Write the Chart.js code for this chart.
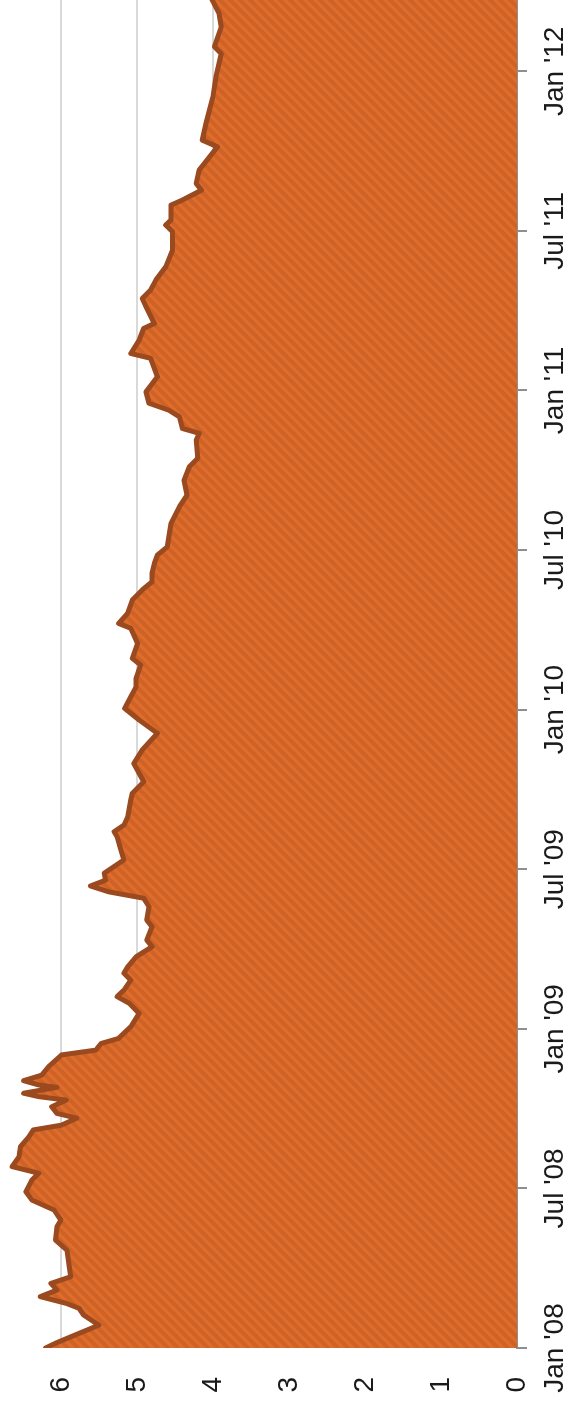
<!DOCTYPE html>
<html>
<head>
<meta charset="utf-8">
<script src="https://cdn.jsdelivr.net/npm/chart.js@4/dist/chart.umd.min.js"></script>
<style>
  html, body { margin: 0; padding: 0; background: #ffffff; overflow: hidden; }
  body { width: 568px; height: 1405px; position: relative; }
  #wrap {
    position: absolute; left: 0; top: 0;
    width: 1405px; height: 568px;
    transform-origin: 0 0;
    transform: translate(0px, 1405px) rotate(-90deg);
  }
  canvas { display: block; }
</style>
</head>
<body>
<div id="wrap"><canvas id="c" width="1405" height="568"></canvas></div>
<script>
// Months since Jan 2008
const months = [0,0.18,0.55,0.86,1.24,1.49,1.68,1.93,2.18,2.43,2.68,3.06,3.68,4.06,4.56,4.81,5.19,
  5.56,5.88,6.32,6.57,6.82,7.19,7.57,7.94,8.20,8.38,8.64,8.82,9.07,9.32,9.45,9.58,9.80,9.89,10.05,10.26,10.58,11.02,11.20,11.45,11.64,12.08,12.58,12.96,
  13.21,13.46,13.83,14.09,14.33,14.71,15.09,15.34,15.84,16.09,16.59,16.91,17.15,17.37,17.59,17.85,18.35,18.72,19.22,19.41,19.66,19.97,20.6,
  20.85,21.29,21.98,22.48,23.11,23.61,24.05,24.48,24.86,25.18,25.68,25.93,26.49,27.06,27.24,27.62,28.12,
  28.5,28.81,29.12,29.5,29.81,30.12,31.0,31.63,32.07,32.63,33.13,33.45,34.14,34.39,34.57,35.01,35.26,
  35.52,35.95,36.52,37.21,37.39,37.89,38.33,38.52,39.15,39.46,39.77,40.15,40.65,41.28,41.97,42.22,42.41,42.97,
  43.16,43.53,43.78,44.29,45.16,45.41,46.04,47.04,47.79,48.66,48.92,49.67,50.18,50.68];
const values = [6.2,6.07,5.76,5.5,5.70,5.76,5.93,6.27,6.05,6.13,5.87,5.89,5.92,6.07,6.05,6.0,6.09,
  6.38,6.46,6.38,6.29,6.64,6.55,6.53,6.42,6.36,5.99,5.79,6.05,6.12,5.93,6.29,6.49,6.05,6.29,6.49,6.25,6.16,5.99,5.54,5.47,5.24,5.08,4.97,5.1,
  5.26,5.17,5.08,5.17,5.12,5.01,4.8,4.87,4.8,4.87,4.84,4.91,5.37,5.61,5.41,5.43,5.17,5.21,5.26,5.30,5.17,5.12,5.08,
  5.06,4.91,5.04,4.93,4.73,4.97,5.16,5.08,5.01,5.01,4.95,5.06,4.99,5.08,5.24,5.12,5.06,
  4.93,4.8,4.8,4.77,4.73,4.6,4.55,4.44,4.34,4.38,4.31,4.2,4.22,4.18,4.40,4.44,4.58,
  4.84,4.88,4.73,4.82,5.08,4.97,4.91,4.77,4.88,4.93,4.82,4.75,4.62,4.53,4.53,4.62,4.55,4.55,
  4.4,4.15,4.22,4.18,3.94,4.14,4.09,4.0,3.96,3.89,3.98,3.89,3.92,4.01];
const xTickPositions = [0,6,12,18,24,30,36,42,48];
const xTickLabels = ["Jan '08","Jul '08","Jan '09","Jul '09","Jan '10","Jul '10","Jan '11","Jul '11","Jan '12"];
const yTicks = [0,1,2,3,4,5,6];

function makePattern() {
  const s = 10;
  const t = document.createElement('canvas');
  t.width = s; t.height = s;
  const g = t.getContext('2d');
  g.fillStyle = '#cd6329';
  g.fillRect(0, 0, s, s);
  g.strokeStyle = '#e06c2a';
  g.lineWidth = 3.2;
  g.beginPath();
  for (const o of [-s, 0, s]) {
    g.moveTo(o - 1, s + 1);
    g.lineTo(o + s + 1, -1);
  }
  g.stroke();
  return document.getElementById('c').getContext('2d').createPattern(t, 'repeat');
}

const FONT = "'Liberation Sans', Arial, sans-serif";
const pts = months.map((m, i) => ({ x: m, y: values[i] }));

new Chart(document.getElementById('c'), {
  type: 'line',
  data: {
    datasets: [{
      data: pts,
      borderColor: '#9b4a20',
      borderWidth: 5,
      borderJoinStyle: 'round',
      borderCapStyle: 'round',
      backgroundColor: makePattern(),
      fill: 'origin',
      pointRadius: 0,
      tension: 0
    }]
  },
  options: {
    responsive: false,
    animation: false,
    devicePixelRatio: 1,
    layout: { padding: 0 },
    plugins: { legend: { display: false }, tooltip: { enabled: false } },
    scales: {
      x: {
        type: 'linear',
        bounds: 'data',
        min: 0,
        max: months[months.length - 1],
        afterFit: s => { s.height = 51; s.paddingLeft = 0; s.paddingRight = 0; },
        afterBuildTicks: s => { s.ticks = xTickPositions.map(v => ({ value: v })); },
        border: { display: true, color: '#8f8f8f', width: 2 },
        grid: { drawOnChartArea: false, drawTicks: true, tickLength: 10, color: '#8f8f8f', lineWidth: 2 },
        ticks: {
          autoSkip: false, maxRotation: 0, minRotation: 0, padding: 11,
          color: '#1a1a1a',
          font: { family: FONT, size: 28 },
          callback: (v) => { const i = xTickPositions.indexOf(v); return i >= 0 ? xTickLabels[i] : ''; }
        }
      },
      y: {
        bounds: 'data',
        min: 0,
        max: 6.8,
        afterFit: s => { s.width = 57; s.paddingTop = 0; s.paddingBottom = 0; },
        afterBuildTicks: s => { s.ticks = yTicks.map(v => ({ value: v })); },
        border: { display: false },
        grid: { drawTicks: false, color: '#d9d9d9', lineWidth: 2 },
        ticks: {
          padding: 29,
          color: '#1a1a1a',
          font: { family: FONT, size: 28 },
          callback: v => String(v)
        }
      }
    }
  }
});
</script>
</body>
</html>
